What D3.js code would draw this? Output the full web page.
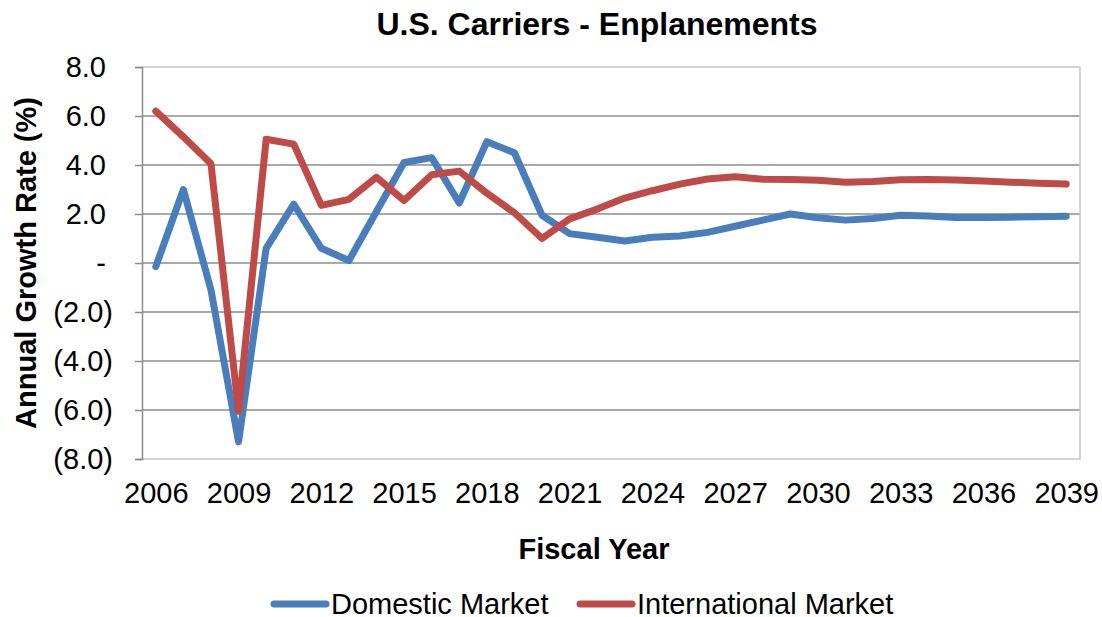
<!DOCTYPE html>
<html>
<head>
<meta charset="utf-8">
<script src="https://cdn.jsdelivr.net/npm/d3@7"></script>
<style>
  body { margin: 0; background: #fff; }
  svg { font-family: "Liberation Sans", Arial, sans-serif; }
</style>
</head>
<body>
<svg id="chart" width="1102" height="617"></svg>
<script>
  // fiscal years on the category axis
  var years = d3.range(2006, 2040);
  var yTicks = [8, 6, 4, 2, 0, -2, -4, -6, -8];

  var domestic = [-0.15, 3.0, -1.1, -7.3, 0.6, 2.4, 0.6, 0.1, 2.1, 4.1, 4.3, 2.45,
    4.95, 4.5, 1.95, 1.2, 1.05, 0.9, 1.05, 1.1, 1.25, 1.5, 1.75, 2.0, 1.85, 1.75,
    1.82, 1.95, 1.92, 1.86, 1.86, 1.87, 1.89, 1.91];
  var international = [6.2, 5.15, 4.05, -6.05, 5.05, 4.85, 2.35, 2.6, 3.5, 2.55, 3.6, 3.75,
    2.85, 2.05, 1.0, 1.8, 2.2, 2.65, 2.95, 3.22, 3.43, 3.52, 3.42, 3.41, 3.38, 3.3,
    3.33, 3.4, 3.41, 3.39, 3.35, 3.3, 3.26, 3.22];

  var seriesNames = ["Domestic Market", "International Market"];
  var colors = ["#4a7ebb", "#be4b48"];

  var svg = d3.select("#chart"),
      margin = {top: 67, right: 22, bottom: 158, left: 142},
      width = 1102 - margin.left - margin.right,
      height = 617 - margin.top - margin.bottom;

  var x = d3.scalePoint().domain(years).range([0, width]).padding(0.5),
      y = d3.scaleLinear().domain([-8, 8]).range([height, 0]);

  var g = svg.append("g")
      .attr("transform", "translate(" + margin.left + "," + margin.top + ")");

  // gridlines
  g.selectAll(".grid")
    .data(yTicks.filter(function(d) { return d > -8 && d < 8; }))
    .enter().append("line")
      .attr("x1", 0).attr("x2", width)
      .attr("y1", function(d) { return y(d); })
      .attr("y2", function(d) { return y(d); })
      .attr("stroke", "#8c8c8c")
      .attr("stroke-width", 1.5);

  // plot border (top, right, bottom)
  g.append("path")
    .attr("d", "M0,0H" + width + "V" + height + "H0")
    .attr("fill", "none")
    .attr("stroke", "#c8c8c8")
    .attr("stroke-width", 1.5);

  // y axis
  var yAxis = g.append("g")
      .call(d3.axisLeft(y).tickValues(yTicks).tickSize(7).tickPadding(22)
        .tickFormat(function(d) {
          if (d === 0) return "-";
          var s = Math.abs(d).toFixed(1);
          return d < 0 ? "(" + s + ")" : s;
        }));
  yAxis.select(".domain").attr("stroke", "#8c8c8c").attr("stroke-width", 1.5);
  yAxis.selectAll(".tick line").attr("stroke", "#8c8c8c").attr("stroke-width", 1.5);
  yAxis.selectAll("text").attr("font-size", 29).attr("fill", "#000")
    .attr("font-family", "Liberation Sans, Arial, sans-serif")
    .attr("dx", function(d) { return d >= 0 ? -7 : 0; });

  // x axis labels every 3 years
  var xAxis = g.append("g")
      .attr("transform", "translate(0," + height + ")")
      .call(d3.axisBottom(x).tickValues(years.filter(function(d) { return (d - 2006) % 3 === 0; }))
        .tickSize(0).tickPadding(23));
  xAxis.select(".domain").remove();
  xAxis.selectAll("text").attr("font-size", 29).attr("fill", "#000")
    .attr("font-family", "Liberation Sans, Arial, sans-serif");

  // lines
  var line = d3.line()
      .x(function(d, i) { return x(years[i]); })
      .y(function(d) { return y(d); });

  [domestic, international].forEach(function(s, i) {
    g.append("path")
      .datum(s)
      .attr("fill", "none")
      .attr("stroke", colors[i])
      .attr("stroke-width", 7)
      .attr("stroke-linejoin", "round")
      .attr("stroke-linecap", "round")
      .attr("d", line);
  });

  // titles
  svg.append("text")
    .attr("x", 597).attr("y", 35)
    .attr("text-anchor", "middle")
    .attr("font-size", 32).attr("font-weight", "bold")
    .text("U.S. Carriers - Enplanements");

  svg.append("text")
    .attr("x", 594).attr("y", 559)
    .attr("text-anchor", "middle")
    .attr("font-size", 29).attr("font-weight", "bold")
    .text("Fiscal Year");

  svg.append("text")
    .attr("transform", "translate(36," + (margin.top + height / 2) + ") rotate(-90)")
    .attr("text-anchor", "middle")
    .attr("font-size", 29).attr("font-weight", "bold")
    .text("Annual Growth Rate (%)");

  // legend
  var legendX = [270, 576];
  var legend = svg.selectAll(".legend")
    .data(seriesNames)
    .enter().append("g")
      .attr("transform", function(d, i) { return "translate(" + legendX[i] + ",604)"; });
  legend.append("line")
    .attr("x1", 4).attr("x2", 56)
    .attr("stroke", function(d, i) { return colors[i]; })
    .attr("stroke-width", 7)
    .attr("stroke-linecap", "round");
  legend.append("text")
    .attr("x", 61).attr("dy", "0.36em")
    .attr("font-size", 29)
    .text(function(d) { return d; });
</script>
</body>
</html>
